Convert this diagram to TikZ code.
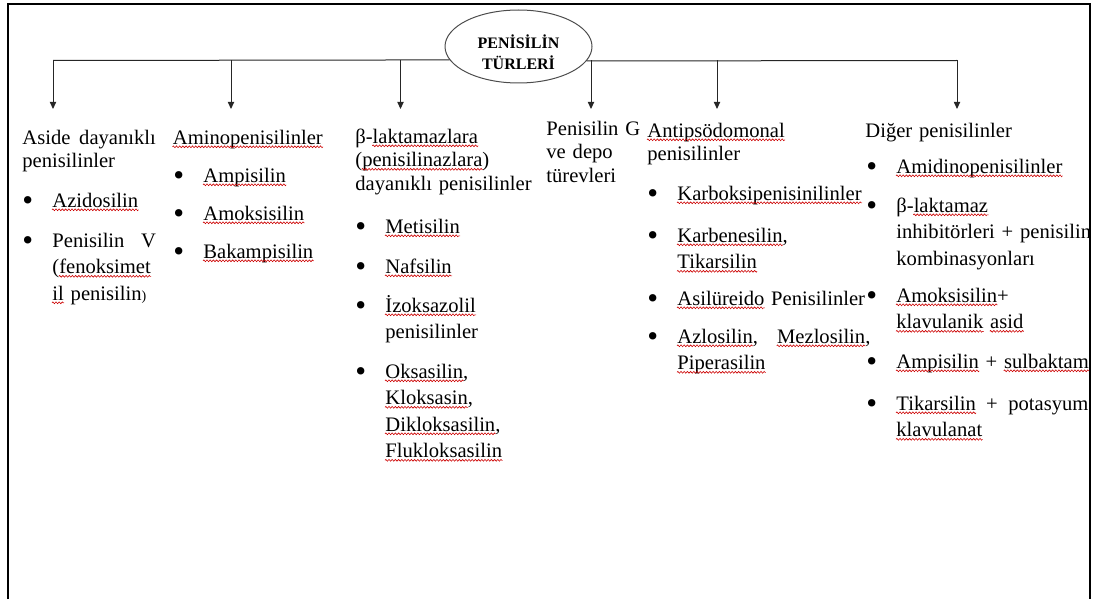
\documentclass[tikz,border=0pt]{standalone}
\usepackage{fontspec}
\setmainfont{Liberation Serif}
\usetikzlibrary{arrows.meta,shapes.geometric,decorations.pathmorphing}

% red spell-check squiggle under a word
\newcommand{\sq}[1]{\tikz[baseline=(sqw.base)]{\node[inner sep=0pt, text width=, align=none] (sqw) {#1};
  \draw[overlay, draw=red!80!black, line width=0.3pt, decorate,
    decoration={zigzag, amplitude=0.45pt, segment length=1.6pt}]
    ([yshift=-1.4pt]sqw.base west) -- ([yshift=-1.4pt]sqw.base east);}}
% bullet item, following lines indented
\newcommand{\bitem}[1]{\leftskip=15pt\relax\hspace*{-15pt}%
  \makebox[15pt][l]{\raisebox{-1.5pt}{\scalebox{1.5}{\textbullet}}}#1\par}

\begin{document}
\begin{tikzpicture}[x=0.5pt, y=-0.5pt,
  hdr/.style={anchor=base west, inner sep=0pt, align=left,
    font=\fontsize{10.3}{11.75}\selectfont},
  itm/.style={hdr, font=\fontsize{10.3}{13.25}\selectfont},
  ttl/.style={ellipse, draw=gray!60!black, line width=0.5pt,
    minimum width=73.5pt, minimum height=36.5pt, inner sep=0pt},
  ttltxt/.style={anchor=base, inner sep=0pt, text width=80pt, align=center,
    font=\bfseries\fontsize{8}{10.5}\selectfont},
  ln/.style={draw=black!85, line width=0.5pt},
  arr/.style={ln, -{Triangle[length=3.6pt, width=3.2pt]}},
  frame/.style={draw=black, line width=1.1pt}
]
\useasboundingbox (0,0) rectangle (1096,599);

\draw[frame] (8,599) -- (8,4) -- (1090,4) -- (1090,599);

% root
\node[ttl] (tit) at (518.5,46.5) {};
\node[ttltxt] (titx) at (518.5,49) {PENİSİLİN\\TÜRLERİ};

% junctions and arrow ends
\coordinate (j1) at (53,60.5);
\coordinate (j2) at (231,60.5);
\coordinate (j3) at (400.5,60.5);
\coordinate (j4) at (591,60.5);
\coordinate (j5) at (717,60.5);
\coordinate (j6) at (957,60.5);
\coordinate (e1) at (53,109);
\coordinate (e2) at (231,109);
\coordinate (e3) at (400.5,109);
\coordinate (e4) at (591,109);
\coordinate (e5) at (717,109);
\coordinate (e6) at (957,109);

\draw[ln] (tit.191.65) -- (j1);
\draw[ln] (tit.348.35) -- (j6);
\draw[arr] (j1) -- (e1);
\draw[arr] (j2) -- (e2);
\draw[arr] (j3) -- (e3);
\draw[arr] (j4) -- (e4);
\draw[arr] (j5) -- (e5);
\draw[arr] (j6) -- (e6);

% aside dayanikli
\node[hdr, text width=66.75pt] (asd) at (22,144) {Aside\hfill dayanıklı\\penisilinler};
\node[itm, text width=66.75pt] (asd1) at (22,207) {\bitem{\sq{Azidosilin}}};
\node[itm, text width=66.75pt] (asd2) at (22,247) {\bitem{Penisilin\hfill V\\(\sq{fenoksimet}\\\sq{il} penisilin{\scriptsize)}}};

% aminopenisilinler
\node[hdr, text width=90pt] (amn) at (172.5,144) {\sq{Aminopenisilinler}};
\node[itm, text width=90pt] (amn1) at (173,182) {\bitem{\sq{Ampisilin}}};
\node[itm, text width=90pt] (amn2) at (173,220) {\bitem{\sq{Amoksisilin}}};
\node[itm, text width=90pt] (amn3) at (173,258) {\bitem{\sq{Bakampisilin}}};

% beta-laktamaz dayanikli
\node[hdr, text width=95pt] (blk) at (355,143) {β-\sq{laktamazlara}\\(\sq{penisilinazlara})\\dayanıklı~penisilinler};
\node[itm, text width=95pt] (blk1) at (355,233) {\bitem{\sq{Metisilin}}};
\node[itm, text width=95pt] (blk2) at (355,273) {\bitem{\sq{Nafsilin}}};
\node[itm, text width=95pt] (blk3) at (355,312) {\bitem{\sq{İzoksazolil}\\penisilinler}};
\node[itm, text width=95pt] (blk4) at (355,378) {\bitem{\sq{Oksasilin},\\\sq{Kloksasin},\\\sq{Dikloksasilin},\\\sq{Flukloksasilin}}};

% penisilin G
\node[hdr, text width=50pt] (png) at (546,135) {Penisilin~G\\ve depo\\türevleri};

% antipsodomonal
\node[hdr, text width=111.5pt] (aps) at (647,137) {\sq{Antipsödomonal}\\penisilinler};
\node[itm, text width=118pt] (aps1) at (647,200) {\bitem{\sq{Karboksipenisinilinler}}};
\node[itm, text width=111.5pt] (aps2) at (647,242) {\bitem{\sq{Karbenesilin},\\\sq{Tikarsilin}}};
\node[itm, text width=118pt] (aps3) at (647,305) {\bitem{\sq{Asilüreido}~Penisilinler}};
\node[itm, text width=111.5pt] (aps4) at (647,343) {\bitem{\sq{Azlosilin},\hfill\sq{Mezlosilin},\\\sq{Piperasilin}}};

% diger penisilinler
\node[hdr, text width=111pt] (dgr) at (865,137) {Diğer penisilinler};
\node[itm, text width=115pt] (dgr1) at (866,173) {\bitem{\sq{Amidinopenisilinler}}};
\node[itm, text width=115pt] (dgr2) at (866,212) {\bitem{β-\sq{laktamaz}\\inhibitörleri~+~penisilin\\kombinasyonları}};
\node[itm, text width=111pt] (dgr3) at (866,302) {\bitem{\sq{Amoksisilin}+\\\sq{klavulanik} \sq{asid}}};
\node[itm, text width=115pt] (dgr4) at (866,368) {\bitem{\sq{Ampisilin}~+~\sq{sulbaktam}}};
\node[itm, text width=111pt] (dgr5) at (866,410) {\bitem{\sq{Tikarsilin}\hfill+\hfill potasyum\\\sq{klavulanat}}};

\end{tikzpicture}
\end{document}
